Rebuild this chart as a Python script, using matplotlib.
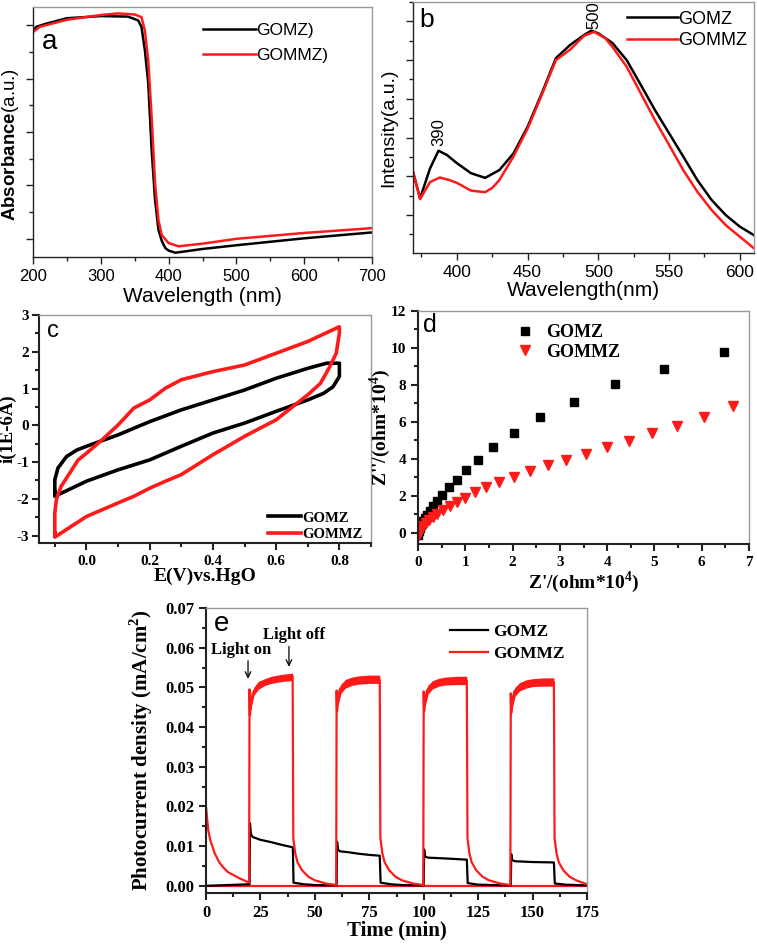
import numpy as np
import matplotlib
matplotlib.use("Agg")
import matplotlib.pyplot as plt
from matplotlib.ticker import MultipleLocator

plt.rcParams['mathtext.fontset'] = 'custom'
plt.rcParams['mathtext.rm'] = 'Liberation Serif:bold'
plt.rcParams['mathtext.bf'] = 'Liberation Sans:bold'
plt.rcParams['axes.unicode_minus'] = False

SANS = 'Liberation Sans'
SERIF = 'Liberation Serif'
RED = '#ff1a1a'

# ---- (a) UV-vis absorbance ----
abs_wl_gomz = [200, 205, 220, 250, 300, 340, 355, 360, 365, 370, 375, 380, 385, 390, 395, 400, 410, 450, 500, 600, 700]
abs_gomz = [3.90, 3.97, 4.03, 4.13, 4.17, 4.16, 4.09, 3.97, 3.53, 2.91, 1.66, 0.73, 0.17, -0.04, -0.17, -0.22, -0.26, -0.19, -0.12, 0.01, 0.12]
abs_wl_gommz = [200, 210, 250, 300, 325, 350, 360, 365, 370, 375, 380, 385, 390, 400, 415, 450, 500, 600, 700]
abs_gommz = [3.87, 3.97, 4.10, 4.19, 4.22, 4.20, 4.15, 3.90, 3.34, 2.28, 1.04, 0.35, 0.07, -0.08, -0.14, -0.09, 0.00, 0.11, 0.20]

# ---- (b) PL spectra ----
pl_wl_gomz = [369, 374, 381, 387, 393, 400, 410, 420, 430, 440, 450, 460, 470, 480, 490, 495, 500, 510, 520, 530, 540, 550, 560, 570, 580, 590, 600, 610]
pl_gomz = [1.12, 0.43, 1.20, 1.66, 1.55, 1.34, 1.08, 0.96, 1.16, 1.59, 2.28, 3.14, 4.05, 4.39, 4.65, 4.76, 4.69, 4.44, 4.00, 3.36, 2.71, 2.11, 1.51, 0.90, 0.39, 0.00, -0.30, -0.52]
pl_wl_gommz = [369, 374, 381, 388, 395, 400, 410, 420, 425, 430, 440, 450, 460, 470, 480, 490, 497, 505, 510, 520, 530, 540, 550, 560, 570, 580, 590, 600, 610]
pl_gommz = [1.12, 0.41, 0.85, 0.97, 0.90, 0.83, 0.63, 0.59, 0.70, 0.90, 1.51, 2.23, 3.10, 4.00, 4.27, 4.63, 4.73, 4.56, 4.34, 3.83, 3.14, 2.45, 1.81, 1.16, 0.60, 0.13, -0.26, -0.56, -0.86]

# ---- (c) cyclic voltammetry (closed loops) ----
cv_e_gomz = [-0.10, -0.10, -0.09, -0.063, -0.03, 0.0, 0.1, 0.2, 0.3, 0.4, 0.5, 0.6, 0.7, 0.76, 0.80, 0.80,
             0.78, 0.75, 0.7, 0.6, 0.5, 0.4, 0.3, 0.2, 0.1, 0.0, -0.10, -0.10]
cv_i_gomz = [-1.80, -1.48, -1.16, -0.85, -0.67, -0.57, -0.26, 0.10, 0.42, 0.69, 0.96, 1.28, 1.55, 1.69, 1.69, 1.33,
             1.05, 0.87, 0.69, 0.38, 0.06, -0.21, -0.57, -0.94, -1.21, -1.52, -1.93, -1.80]
cv_e_gommz = [-0.10, -0.10, -0.095, -0.08, -0.053, -0.026, 0.0, 0.05, 0.1, 0.15, 0.2, 0.25, 0.3, 0.4, 0.5, 0.6, 0.7, 0.80, 0.80,
              0.79, 0.77, 0.74, 0.7, 0.6, 0.5, 0.4, 0.3, 0.25, 0.2, 0.15, 0.1, 0.0, -0.10, -0.10]
cv_i_gommz = [-2.93, -2.38, -2.02, -1.66, -1.30, -0.94, -0.76, -0.39, 0.01, 0.47, 0.69, 1.01, 1.24, 1.46, 1.64, 1.96, 2.28, 2.68, 2.50,
              1.96, 1.60, 1.14, 0.83, 0.15, -0.30, -0.80, -1.34, -1.52, -1.71, -1.93, -2.11, -2.48, -3.04, -2.93]

# ---- (d) Nyquist plots ----
z_re_gomz = [6.47, 5.21, 4.16, 3.30, 2.59, 2.03, 1.59, 1.27, 1.02, 0.82, 0.66, 0.51, 0.41, 0.32, 0.25, 0.19, 0.14, 0.11, 0.07, 0.05, 0.03, 0.01]
z_im_gomz = [9.79, 8.89, 8.03, 7.10, 6.25, 5.42, 4.67, 3.95, 3.38, 2.87, 2.46, 2.07, 1.74, 1.44, 1.20, 0.99, 0.81, 0.63, 0.45, 0.27, 0.09, -0.09]
z_re_gommz = [6.66, 6.05, 5.48, 4.95, 4.46, 4.00, 3.56, 3.14, 2.75, 2.37, 2.02, 1.71, 1.44, 1.21, 0.99, 0.82, 0.67, 0.53, 0.41, 0.32, 0.23, 0.16, 0.11, 0.06, 0.03, 0.01]
z_im_gommz = [6.86, 6.29, 5.78, 5.39, 4.98, 4.62, 4.26, 3.95, 3.65, 3.36, 3.05, 2.73, 2.46, 2.19, 1.89, 1.67, 1.44, 1.26, 1.02, 0.86, 0.68, 0.54, 0.40, 0.22, 0.04, -0.18]

# ---- (e) transient photocurrent ----
pc_t_gomz = [0, 19.8, 20.0, 20.2, 20.6, 21.5, 25, 30, 35, 39.9, 40.2, 45, 50, 59.8,
             60.0, 60.2, 60.6, 61.5, 65, 70, 75, 79.8, 80.2, 85, 90, 99.8,
             100.0, 100.2, 100.6, 102, 110, 119.8, 120.2, 125, 139.8,
             140.0, 140.2, 140.6, 142, 150, 159.8, 160.2, 165, 175]
pc_gomz = [0.0, 0.0004, 0.0004, 0.0158, 0.0130, 0.0123, 0.0116, 0.0110, 0.0103, 0.0097, 0.0008, 0.0004, 0.0002, 0.0001,
           0.0001, 0.0111, 0.0092, 0.0087, 0.0085, 0.0081, 0.0078, 0.0076, 0.0008, 0.0004, 0.0002, 0.0001,
           0.0001, 0.0092, 0.0074, 0.0071, 0.0069, 0.0066, 0.0007, 0.0003, 0.0001,
           0.0001, 0.0080, 0.0065, 0.0062, 0.0060, 0.0059, 0.0006, 0.0003, 0.0001]
pc_t_gommz = [0, 1, 2, 4, 6, 8, 10, 15, 19.8,
              20.0, 20.2, 20.6, 21.5, 23, 26, 30, 35, 39.8,
              40.1, 41, 42, 44, 47, 50, 55, 59.8,
              60.0, 60.2, 60.6, 61.5, 63, 66, 70, 75, 79.8,
              80.1, 81, 82, 84, 87, 90, 95, 99.8,
              100.0, 100.2, 100.6, 101.5, 103, 106, 110, 115, 119.8,
              120.1, 121, 122, 124, 127, 130, 135, 139.8,
              140.0, 140.2, 140.6, 141.5, 143, 146, 150, 155, 159.8,
              160.1, 161, 162, 164, 167, 170, 175]
pc_gommz = [0.0200, 0.0141, 0.0115, 0.0082, 0.0060, 0.0046, 0.0035, 0.0020, 0.0008,
            0.0495, 0.0430, 0.0460, 0.0485, 0.0500, 0.0512, 0.0518, 0.0523, 0.0527,
            0.0120, 0.0082, 0.0060, 0.0040, 0.0023, 0.0014, 0.0006, 0.0002,
            0.0492, 0.0440, 0.0470, 0.0495, 0.0507, 0.0515, 0.0518, 0.0520, 0.0520,
            0.0120, 0.0082, 0.0060, 0.0040, 0.0023, 0.0014, 0.0006, 0.0002,
            0.0490, 0.0440, 0.0468, 0.0492, 0.0505, 0.0512, 0.0516, 0.0517, 0.0517,
            0.0120, 0.0082, 0.0060, 0.0040, 0.0023, 0.0014, 0.0006, 0.0002,
            0.0485, 0.0435, 0.0462, 0.0488, 0.0500, 0.0508, 0.0512, 0.0513, 0.0513,
            0.0120, 0.0082, 0.0060, 0.0040, 0.0023, 0.0014, 0.0004]
# noise envelope of GOMMZ under illumination
band_t = [[20.5, 22, 24, 27, 30, 35, 39.8], [60.5, 62, 64, 67, 70, 75, 79.8],
          [100.5, 102, 104, 107, 110, 115, 119.8], [140.5, 142, 144, 147, 150, 155, 159.8]]
band_lo = [[0.0440, 0.0480, 0.0495, 0.0505, 0.0510, 0.0515, 0.0517], [0.0450, 0.0485, 0.0498, 0.0505, 0.0508, 0.0510, 0.0510],
           [0.0448, 0.0483, 0.0496, 0.0503, 0.0506, 0.0507, 0.0507], [0.0443, 0.0478, 0.0491, 0.0498, 0.0502, 0.0503, 0.0503]]
band_hi = [[0.0475, 0.0500, 0.0515, 0.0522, 0.0528, 0.0533, 0.0536], [0.0482, 0.0508, 0.0520, 0.0526, 0.0529, 0.0531, 0.0531],
           [0.0480, 0.0505, 0.0517, 0.0523, 0.0526, 0.0528, 0.0528], [0.0475, 0.0500, 0.0512, 0.0519, 0.0522, 0.0524, 0.0524]]
base_t = [0, 175]
base_j = [0.0, 0.0]

fig = plt.figure(figsize=(7.57, 9.46), dpi=100)


def style_axes(ax, lw=1.0, tick_font=None, tsize=11, bold=False):
    for s in ['left', 'bottom']:
        ax.spines[s].set_color('#222222')
        ax.spines[s].set_linewidth(lw)
    for s in ['top', 'right']:
        ax.spines[s].set_color('#9a9a9a')
        ax.spines[s].set_linewidth(1.0)
    ax.tick_params(which='both', direction='out', top=False, right=False, width=lw, color='#222222')
    ax.tick_params(which='major', length=5)
    ax.tick_params(which='minor', length=3)
    for lab in ax.get_xticklabels() + ax.get_yticklabels():
        lab.set_fontfamily(tick_font)
        lab.set_fontsize(tsize)
        if bold:
            lab.set_fontweight('bold')


# ---- panel a ----
ax = fig.add_axes([33 / 757, 1 - 257 / 946, 339 / 757, 250 / 946])
ax.plot(abs_wl_gomz, abs_gomz, color='black', lw=1.8, label='GOMZ)')
ax.plot(abs_wl_gommz, abs_gommz, color=RED, lw=1.8, label='GOMMZ)')
ax.set_xlim(200, 700)
ax.set_ylim(-0.34, 4.34)
ax.xaxis.set_major_locator(MultipleLocator(100))
ax.xaxis.set_minor_locator(MultipleLocator(50))
ax.yaxis.set_major_locator(MultipleLocator(1))
ax.yaxis.set_minor_locator(MultipleLocator(0.5))
ax.set_yticklabels([])
style_axes(ax, tick_font=SANS, tsize=12)
ax.set_xlabel('Wavelength (nm)', fontfamily=SANS, fontsize=15, labelpad=2)
ax.set_ylabel(r'$\mathbf{Absorbance}$(a.u.)', fontfamily=SANS, fontsize=13.5)
ax.yaxis.set_label_coords(-0.036, 0.45)
ax.text(0.027, 0.86, 'a', transform=ax.transAxes, fontfamily=SANS, fontsize=20, va='center')
ax.legend(loc='upper left', bbox_to_anchor=(0.50, 0.935), frameon=False, handlelength=3.1, borderpad=0,
          handletextpad=0.0, labelspacing=0.55, borderaxespad=0, prop={'family': SANS, 'size': 12.5})

# ---- panel b ----
ax = fig.add_axes([413 / 757, 1 - 253 / 946, 341 / 757, 251 / 946])
ax.plot(pl_wl_gomz, pl_gomz, color='black', lw=1.8, label='GOMZ')
ax.plot(pl_wl_gommz, pl_gommz, color=RED, lw=1.8, label='GOMMZ')
ax.set_xlim(369, 610)
ax.set_ylim(-0.98, 5.5)
ax.xaxis.set_major_locator(MultipleLocator(50))
ax.xaxis.set_minor_locator(MultipleLocator(25))
ax.yaxis.set_major_locator(MultipleLocator(1))
ax.yaxis.set_minor_locator(MultipleLocator(0.5))
ax.set_yticklabels([])
style_axes(ax, tick_font=SANS, tsize=12.5)
ax.set_xlabel('Wavelength(nm)', fontfamily=SANS, fontsize=15, labelpad=1)
ax.set_ylabel('Intensity(a.u.)', fontfamily=SANS, fontsize=14)
ax.yaxis.set_label_coords(-0.047, 0.5)
ax.text(0.02, 0.93, 'b', transform=ax.transAxes, fontfamily=SANS, fontsize=19, va='center')
ax.text(387, 1.78, '390', rotation=90, ha='center', va='bottom', fontfamily=SANS, fontsize=12)
ax.text(497, 4.80, '500', rotation=90, ha='center', va='bottom', fontfamily=SANS, fontsize=12)
ax.legend(loc='upper left', bbox_to_anchor=(0.628, 0.965), frameon=False, handlelength=2.8, borderpad=0,
          handletextpad=0.0, labelspacing=0.25, borderaxespad=0, prop={'family': SANS, 'size': 13})

# ---- panel c ----
ax = fig.add_axes([39 / 757, 1 - 543 / 946, 332 / 757, 228 / 946])
ax.plot(cv_e_gomz, cv_i_gomz, color='black', lw=2.6, label='GOMZ')
ax.plot(cv_e_gommz, cv_i_gommz, color=RED, lw=2.6, label='GOMMZ')
ax.set_xlim(-0.15, 0.9)
ax.set_ylim(-3.2, 3)
ax.xaxis.set_minor_locator(MultipleLocator(0.1))
ax.yaxis.set_major_locator(MultipleLocator(1))
ax.yaxis.set_minor_locator(MultipleLocator(0.5))
ax.set_xticks([0.0, 0.2, 0.4, 0.6, 0.8])
ax.set_xticklabels(['0.0', '0.2', '0.4', '0.6', '0.8'])
style_axes(ax, lw=1.5, tick_font=SERIF, tsize=11, bold=True)
ax.tick_params(axis='y', pad=2)
ax.set_xlabel('E(V)vs.HgO', fontfamily=SERIF, fontweight='bold', fontsize=14, labelpad=0)
ax.set_ylabel('i(1E-6A)', fontfamily=SERIF, fontweight='bold', fontsize=13.5)
ax.yaxis.set_label_coords(-0.068, 0.5)
ax.text(0.024, 0.93, 'c', transform=ax.transAxes, fontfamily=SANS, fontsize=17, va='center')
ax.legend(loc='lower right', bbox_to_anchor=(0.976, 0.01), frameon=False, handlelength=2.3, borderpad=0,
          handletextpad=0.1, labelspacing=0.2, borderaxespad=0,
          prop={'family': SERIF, 'weight': 'bold', 'size': 10.5})

# ---- panel d ----
ax = fig.add_axes([418 / 757, 1 - 544 / 946, 331 / 757, 233 / 946])
ax.plot(z_re_gomz, z_im_gomz, 's', color='black', ms=5.5, label='GOMZ')
ax.plot(z_re_gommz, z_im_gommz, 'v', color=RED, ms=6.5, label='GOMMZ')
ax.set_xlim(0, 7)
ax.set_ylim(-0.6, 12)
ax.xaxis.set_major_locator(MultipleLocator(1))
ax.xaxis.set_minor_locator(MultipleLocator(0.5))
ax.yaxis.set_major_locator(MultipleLocator(2))
ax.yaxis.set_minor_locator(MultipleLocator(1))
style_axes(ax, lw=1.5, tick_font=SERIF, tsize=11, bold=True)
ax.set_xlabel("Z'/(ohm*10$^4$)", fontfamily=SERIF, fontweight='bold', fontsize=14, labelpad=0)
ax.set_ylabel("Z''/(ohm*10$^4$)", fontfamily=SERIF, fontweight='bold', fontsize=14)
ax.yaxis.set_label_coords(-0.076, 0.5)
ax.text(0.015, 0.94, 'd', transform=ax.transAxes, fontfamily=SANS, fontsize=18, va='center')
ax.legend(loc='upper left', bbox_to_anchor=(0.282, 0.944), frameon=False, handlelength=1.5, borderpad=0,
          handletextpad=0.42, labelspacing=0.15, borderaxespad=0,
          prop={'family': SERIF, 'weight': 'bold', 'size': 13})

# ---- panel e ----
ax = fig.add_axes([206 / 757, 1 - 893 / 946, 381 / 757, 285 / 946])
ax.plot(base_t, base_j, color=RED, lw=1.6)
ax.plot(pc_t_gomz, pc_gomz, color='black', lw=1.6, label='GOMZ')
ax.plot(pc_t_gommz, pc_gommz, color=RED, lw=1.6, label='GOMMZ')
for bt, lo, hi in zip(band_t, band_lo, band_hi):
    ax.fill_between(bt, lo, hi, color=RED, lw=0)
ax.set_xlim(0, 175)
ax.set_ylim(-0.0018, 0.07)
ax.xaxis.set_major_locator(MultipleLocator(25))
ax.xaxis.set_minor_locator(MultipleLocator(12.5))
ax.yaxis.set_minor_locator(MultipleLocator(0.005))
ax.set_yticks([0.0, 0.01, 0.02, 0.03, 0.04, 0.05, 0.06, 0.07])
ax.set_yticklabels(['0.00', '0.01', '0.02', '0.03', '0.04', '0.05', '0.06', '0.07'])
style_axes(ax, lw=1.5, tick_font=SERIF, tsize=12, bold=True)
ax.set_xlabel('Time (min)', fontfamily=SERIF, fontweight='bold', fontsize=15, labelpad=0)
ax.set_ylabel('Photocurrent density (mA/cm$^2$)', fontfamily=SERIF, fontweight='bold', fontsize=15)
ax.yaxis.set_label_coords(-0.134, 0.5)
ax.text(0.02, 0.945, 'e', transform=ax.transAxes, fontfamily=SANS, fontsize=20, va='center')
ax.text(2.5, 0.0585, 'Light on', fontfamily=SERIF, fontweight='bold', fontsize=12)
ax.text(26, 0.0622, 'Light off', fontfamily=SERIF, fontweight='bold', fontsize=12)
arrow = dict(arrowstyle='->', color='black', lw=0.9, shrinkA=0, shrinkB=0)
ax.annotate('', xy=(19.3, 0.0522), xytext=(19.3, 0.0567), arrowprops=arrow)
ax.annotate('', xy=(38.1, 0.0552), xytext=(38.1, 0.0603), arrowprops=arrow)
ax.legend(loc='upper left', bbox_to_anchor=(0.64, 0.943), frameon=False, handlelength=2.2, borderpad=0,
          handletextpad=0.3, labelspacing=0.3, borderaxespad=0,
          prop={'family': SERIF, 'weight': 'bold', 'size': 12.5})

fig.savefig('out.png', dpi=100)
